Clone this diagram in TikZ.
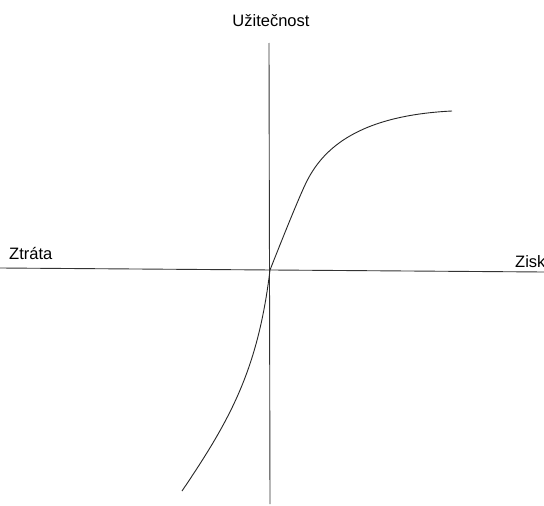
\documentclass[tikz,border=0pt]{standalone}
\usepackage{fontspec}
\setmainfont{Liberation Sans}
\begin{document}
\begin{tikzpicture}[x=1pt,y=-1pt,
  axis/.style={line width=0.9pt,draw=black!80},
  curve/.style={line width=0.9pt,draw=black!85},
  lbl/.style={font=\fontsize{16.5}{18}\selectfont,inner sep=0pt,anchor=base west}]
\useasboundingbox (0,0) rectangle (544,506);
\fill[white] (0,0) rectangle (544,506);
\coordinate (ytop) at (269,43);
\coordinate (ybot) at (270,504);
\coordinate (xl) at (0,268);
\coordinate (xr) at (544,272);
\coordinate (o) at (270,270);
\coordinate (cs) at (182,491);
\coordinate (knee) at (305,185);
\coordinate (ce) at (452,111);
\draw[axis] (ytop) -- (ybot);
\draw[axis] (xl) -- (xr);
\node[lbl,anchor=base] (u) at (271,27) {Užitečnost};
\node[lbl] (z) at (9,259) {Ztráta};
\node[lbl] (s) at (515,267) {Zisk};
\draw[curve] (cs) .. controls (230,420) and (258,370) .. (o)
  .. controls (285,232) and (298,200) .. (knee)
  .. controls (319,155) and (350,116) .. (ce);
\end{tikzpicture}
\end{document}
